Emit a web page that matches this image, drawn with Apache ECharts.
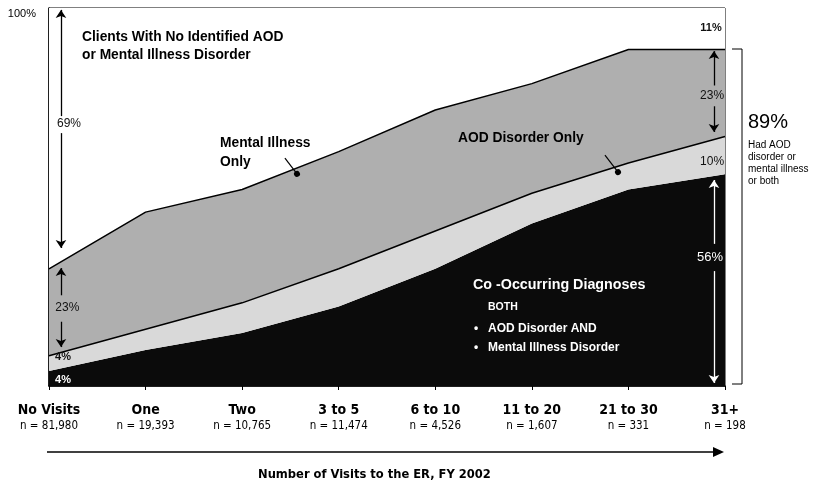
<!DOCTYPE html>
<html>
<head>
<meta charset="utf-8">
<script src="https://cdn.jsdelivr.net/npm/echarts@6/dist/echarts.min.js"></script>
<style>
  html, body { margin: 0; padding: 0; background: #fff; }
  #app { width: 815px; height: 486px; }
</style>
</head>
<body>
<div id="app"></div>
<script>
// values (percent of clients at each visit count)
const categories = ["No Visits", "One", "Two", "3 to 5", "6 to 10", "11 to 20", "21 to 30", "31+"];
const sampleSizes = ["81,980", "19,393", "10,765", "11,474", "4,526", "1,607", "331", "198"];
const coOccurring = [4, 9.5, 14, 21, 31, 43, 52, 56];
const aodOnly = [4, 5.5, 8, 10, 10, 8, 7, 10];
const mentalOnly = [23, 31, 30, 31, 32, 29, 30, 23];
const noDisorder = [69, 54, 48, 38, 27, 20, 11, 11];

const SANS = '"Liberation Sans", Arial, sans-serif';
const NARROW = '"DejaVu Sans Condensed", "Liberation Sans Narrow", sans-serif';

const app = document.getElementById("app");
const myChart = echarts.init(app);

// arrows and percent labels live on a hidden value axis so they follow the scales
const blackArrows = [
  [[0.124, 71.4], [0.124, 99.5]],
  [[0.124, 66.9], [0.124, 36.5]],
  [[0.124, 24.0], [0.124, 31.2]],
  [[0.124, 17.0], [0.124, 10.3]],
  [[6.886, 79.5], [6.886, 88.6]],
  [[6.886, 74.0], [6.886, 67.2]]
];
const whiteArrows = [
  [[6.886, 37.6], [6.886, 54.5]],
  [[6.886, 30.4], [6.886, 0.8]]
];
const pointers = [
  [[2.443, 60.3], [2.568, 56.1]],
  [[5.757, 61.1], [5.892, 56.6]]
];
const pctLabels = [
  { text: "69%", at: [0.207, 69.3], color: "#111", bold: false, size: 12 },
  { text: "23%", at: [0.19, 20.6], color: "#111", bold: false, size: 12 },
  { text: "4%", at: [0.145, 7.6], color: "#111", bold: true, size: 11 },
  { text: "4%", at: [0.145, 1.7], color: "#fff", bold: true, size: 11 },
  { text: "11%", at: [6.855, 94.7], color: "#111", bold: true, size: 11 },
  { text: "23%", at: [6.866, 76.7], color: "#111", bold: false, size: 12 },
  { text: "10%", at: [6.866, 59.3], color: "#111", bold: false, size: 12 },
  { text: "56%", at: [6.845, 33.9], color: "#fff", bold: false, size: 13 }
];

const toLines = (arr) => arr.map((p) => [{ coord: p[0] }, { coord: p[1] }]);

const areaSeries = (name, data, color, lineWidth) => ({
  name,
  type: "line",
  stack: "total",
  data,
  symbol: "none",
  areaStyle: { color, opacity: 1 },
  lineStyle: { color: "#000", width: lineWidth },
  emphasis: { disabled: true },
  silent: true
});

const txt = (left, top, text, font, fill, extra) => ({
  type: "text", left, top, z: 100,
  style: Object.assign({ text, font, fill }, extra || {})
});

const option = {
  animation: false,
  backgroundColor: "#fff",
  textStyle: { fontFamily: SANS },
  grid: {
    left: 49, right: 90, top: 8, bottom: 100,
    show: true, borderColor: "#000", borderWidth: 1
  },
  xAxis: [
    {
      type: "category",
      data: categories,
      boundaryGap: false,
      axisLine: { lineStyle: { color: "#000", width: 1.5 } },
      axisTick: { show: true, length: 4, lineStyle: { color: "#000" } },
      axisLabel: {
        interval: 0,
        margin: 16,
        color: "#000",
        formatter: (v, i) => `{name|${v}}\n{n|n = ${sampleSizes[i]}}`,
        rich: {
          name: { fontFamily: NARROW, fontWeight: "bold", fontSize: 14, lineHeight: 17, color: "#000" },
          n: { fontFamily: NARROW, fontSize: 11.5, lineHeight: 15, color: "#000" }
        }
      },
      splitLine: { show: false }
    },
    { type: "value", min: 0, max: 7, show: false, splitLine: { show: false } }
  ],
  yAxis: {
    type: "value",
    min: 0,
    max: 100,
    interval: 100,
    axisLine: { show: true, lineStyle: { color: "#000", width: 1.5 } },
    axisTick: { show: false },
    splitLine: { show: false },
    axisLabel: {
      margin: 13,
      color: "#000",
      fontSize: 11,
      verticalAlign: "top",
      formatter: (v) => (v === 100 ? "100%" : "")
    }
  },
  series: [
    areaSeries("Co-Occurring", coOccurring, "#0b0b0b", 0),
    areaSeries("AOD Disorder Only", aodOnly, "#d9d9d9", 1.5),
    areaSeries("Mental Illness Only", mentalOnly, "#afafaf", 1.5),
    areaSeries("No Identified Disorder", noDisorder, "#ffffff", 0),
    {
      type: "scatter",
      xAxisIndex: 1,
      data: [],
      silent: true,
      markLine: {
        silent: true,
        symbol: ["none", "arrow"],
        symbolSize: 8,
        label: { show: false },
        lineStyle: { color: "#000", width: 1.3, type: "solid" },
        data: toLines(blackArrows)
      },
      markPoint: {
        silent: true,
        symbol: "circle",
        symbolSize: 0,
        data: pctLabels.map((l) => ({
          coord: l.at,
          label: {
            show: true,
            position: "inside",
            formatter: l.text,
            color: l.color,
            fontSize: l.size,
            fontWeight: l.bold ? "bold" : "normal"
          }
        }))
      }
    },
    {
      type: "scatter",
      xAxisIndex: 1,
      data: [],
      silent: true,
      markLine: {
        silent: true,
        symbol: ["none", "arrow"],
        symbolSize: 8,
        label: { show: false },
        lineStyle: { color: "#fff", width: 1.3, type: "solid" },
        data: toLines(whiteArrows)
      }
    },
    {
      type: "scatter",
      xAxisIndex: 1,
      data: [],
      silent: true,
      markLine: {
        silent: true,
        symbol: ["none", "circle"],
        symbolSize: 6,
        label: { show: false },
        lineStyle: { color: "#000", width: 1.2, type: "solid" },
        itemStyle: { color: "#000" },
        data: toLines(pointers)
      }
    }
  ],
  graphic: [
    txt(82, 28, "Clients With No Identified AOD\nor Mental Illness Disorder", `bold 13.8px ${SANS}`, "#000", { lineHeight: 18 }),
    txt(220, 134, "Mental Illness\nOnly", `bold 13.8px ${SANS}`, "#000", { lineHeight: 19 }),
    txt(458, 131, "AOD Disorder Only", `bold 13.8px ${SANS}`, "#000"),
    txt(473, 278, "Co -Occurring Diagnoses", `bold 14.3px ${SANS}`, "#fff"),
    txt(488, 302, "BOTH", `bold 10.5px ${SANS}`, "#fff"),
    txt(474, 319, "•\n•", `bold 12px ${SANS}`, "#fff", { lineHeight: 19 }),
    txt(488, 319, "AOD Disorder AND\nMental Illness Disorder", `bold 12px ${SANS}`, "#fff", { lineHeight: 19 }),
    txt(748, 112, "89%", `20px ${SANS}`, "#000"),
    txt(748, 139, "Had AOD\ndisorder or\nmental illness\nor both", `10px ${SANS}`, "#000", { lineHeight: 12 }),
    {
      type: "polyline", z: 100,
      shape: { points: [[732, 49], [742, 49], [742, 384], [732, 384]] },
      style: { stroke: "#000", lineWidth: 1, fill: null }
    },
    {
      type: "line", z: 100,
      shape: { x1: 47, y1: 452, x2: 716, y2: 452 },
      style: { stroke: "#000", lineWidth: 1.5 }
    },
    {
      type: "polygon", z: 100,
      shape: { points: [[713, 447], [724, 452], [713, 457]] },
      style: { fill: "#000" }
    },
    txt(258, 468, "Number of Visits to the ER, FY 2002", `bold 12.8px ${NARROW}`, "#000")
  ]
};

myChart.setOption(option);
</script>
</body>
</html>
